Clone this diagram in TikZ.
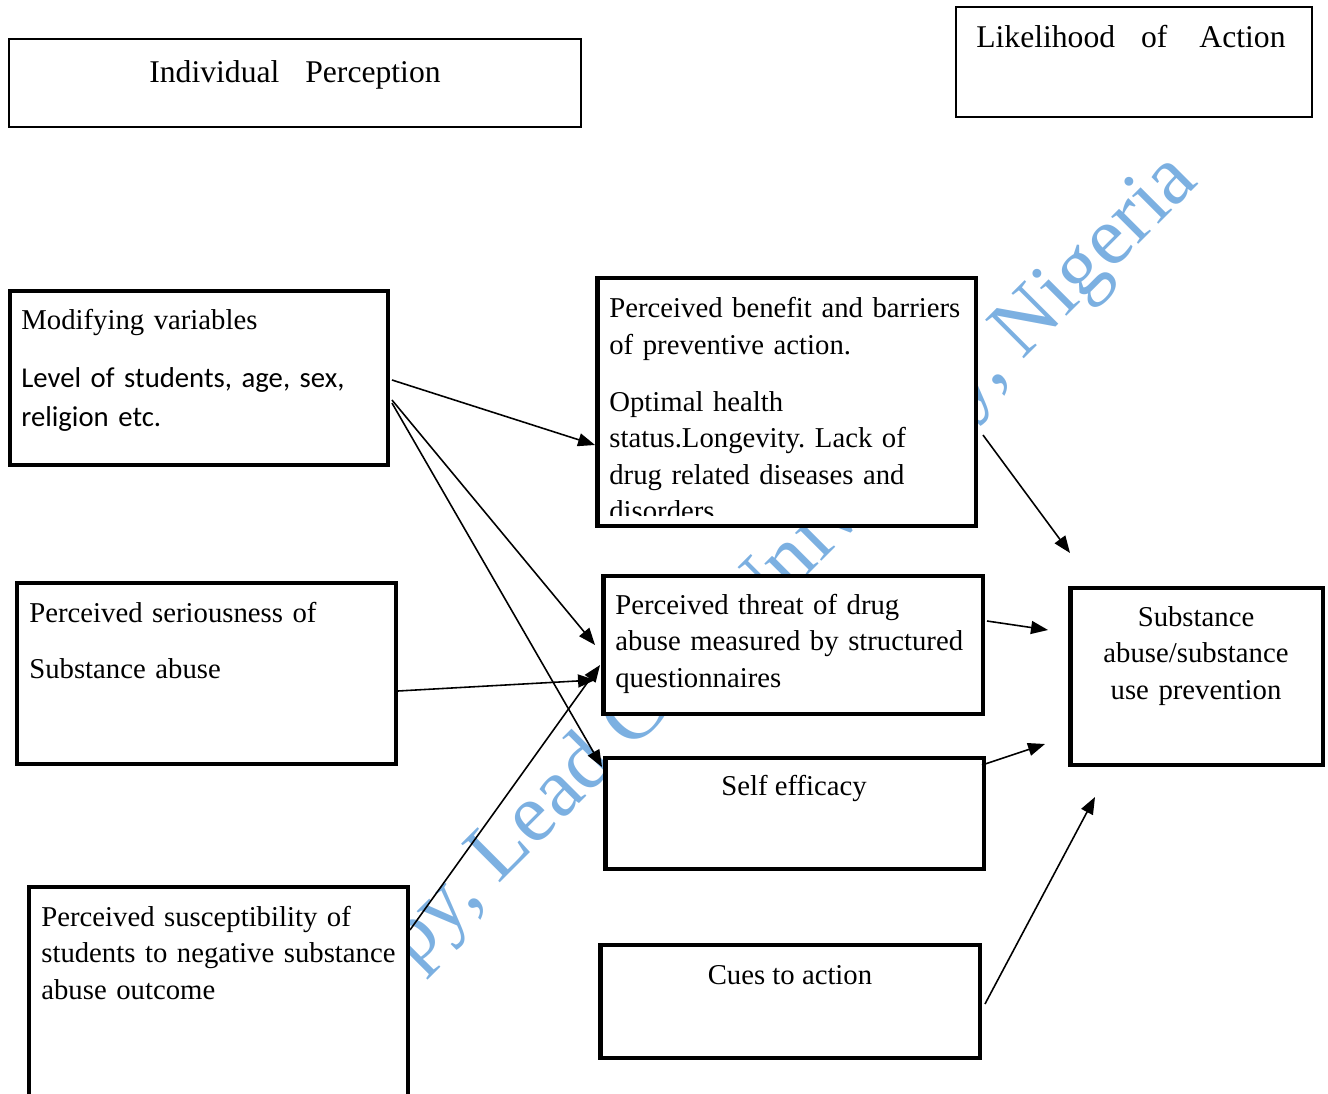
\documentclass[tikz,border=0pt]{standalone}
\usepackage{fontspec}
\setmainfont{Liberation Serif}
\newfontfamily\calibri{Carlito}
\usetikzlibrary{arrows.meta,calc}

\definecolor{wmblue}{RGB}{124,176,225}

\tikzset{
  box/.style={draw, line width=2.8pt, fill=white, inner sep=0pt, outer sep=0pt},
  thinbox/.style={draw, line width=1.3pt, fill=white, inner sep=0pt, outer sep=0pt},
  txt/.style={inner sep=0pt, font=\fontsize{16.35}{20.8}\selectfont\frenchspacing},
  lefttxt/.style={txt, align=left, text width=7.1cm, anchor=base west},
  toptxt/.style={inner sep=0pt, font=\fontsize{18}{22}\selectfont},
  arr/.style={line width=0.9pt, -{Triangle[length=0.34cm,width=0.26cm]}},
  wmark/.style={inner sep=0pt, text=wmblue, font=\fontsize{47.5}{48}\selectfont}
}

\begin{document}
\begin{tikzpicture}[x=0.02cm, y=-0.02cm]
  \useasboundingbox (0,0) rectangle (1328,1094);

  % Watermark
  \node[wmark, rotate=45, anchor=base west] (wm) at (414,969) {py, Lead City University, Nigeria};

  % Define boxes
  \node[thinbox, minimum width=11.44cm, minimum height=1.76cm] (indiv)  at (295,83) {};
  \node[thinbox, minimum width=7.12cm,  minimum height=2.2cm]  (likely) at (1134,62) {};
  \node[box, minimum width=7.56cm, minimum height=3.48cm] (mod)  at (199,378) {};
  \node[box, minimum width=7.58cm, minimum height=3.62cm] (ser)  at (206.5,673.5) {};
  \node[box, minimum width=7.58cm, minimum height=4.26cm] (sus)  at (218.5,993.5) {};
  \node[box, minimum width=7.58cm, minimum height=4.96cm] (ben)  at (786.5,402) {};
  \node[box, minimum width=7.6cm,  minimum height=2.76cm] (thr)  at (793,645) {};
  \node[box, minimum width=7.58cm, minimum height=2.22cm] (self) at (794.5,813.5) {};
  \node[box, minimum width=7.6cm,  minimum height=2.26cm] (cues) at (790,1001.5) {};
  \node[box, minimum width=5.06cm, minimum height=3.54cm] (sub)  at (1196.5,676.5) {};

  % Texts
  \node[toptxt, anchor=base] (indivtxt) at (295,83) {Individual\hspace{0.52cm}Perception};
  \node[toptxt, anchor=base west] (likelytxt) at (976,48) {Likelihood\hspace{0.52cm}of\hspace{0.64cm}Action};
  \node[lefttxt] (modtxt) at (21,330)
    {Modifying variables\\[0.42cm]{\calibri Level of students, age, sex,\\[0.05cm]religion etc.}};
  \node[lefttxt] (sertxt) at (29,622) {Perceived seriousness of\\[0.4cm]Substance abuse};
  \node[lefttxt] (sustxt) at (41,926)
    {Perceived susceptibility of\\students to negative substance\\abuse outcome};
  \begin{scope}
    \clip (597,278) rectangle (976,515);
    \node[lefttxt] (bentxt) at (609,318)
      {Perceived benefit and barriers\\of preventive action.\\[0.4cm]Optimal health\\status.Longevity. Lack of\\drug related diseases and\\disorders.};
  \end{scope}
  \node[lefttxt] (thrtxt) at (615,614)
    {Perceived threat of drug\\abuse measured by structured\\questionnaires};
  \node[txt, anchor=base] (selftxt) at (794,795) {Self efficacy};
  \node[txt, anchor=base] (cuestxt) at (790,984) {Cues to action};
  \node[txt, anchor=base, align=center, text width=4.6cm] (subtxt) at (1196,626)
    {Substance\\abuse/substance\\use prevention};

  % Connect the boxes
  \coordinate (e6) at (1070,553);
  \coordinate (e7) at (1048,630);
  \coordinate (e8) at (1045,744);
  \coordinate (e9) at (1095,797);

  \draw[arr] ($(mod.east)+(4,2)$) -- ($(ben.west)+(-2,43)$);
  \draw[arr] ($(mod.east)+(4,22)$) -- ($(thr.west)+(-8,0)$);
  \draw[arr] ($(mod.east)+(4,25)$) -- ($(self.north west)+(-3,9)$);
  \draw[arr] ($(ser.east)+(2,17.5)$) -- ($(thr.west)+(-8,35)$);
  \draw[arr] ($(sus.east)+(2,-63.5)$) -- ($(thr.west)+(-3,20)$);
  \draw[arr] ($(ben.east)+(7,33)$) -- (e6);
  \draw[arr] ($(thr.east)+(4,-24)$) -- (e7);
  \draw[arr] ($(self.north east)+(-2,7)$) -- (e8);
  \draw[arr] ($(cues.east)+(5,2.5)$) -- (e9);

\end{tikzpicture}
\end{document}
